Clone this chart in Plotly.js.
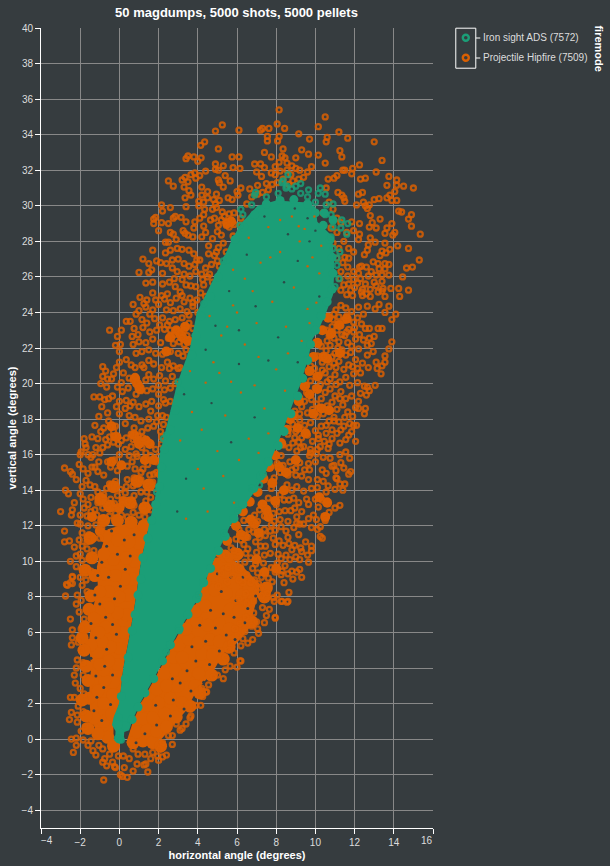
<!DOCTYPE html>
<html><head><meta charset="utf-8">
<script src="https://cdn.plot.ly/plotly-3.0.1.min.js"></script>
<style>html,body{margin:0;padding:0;background:#363c3f}</style></head>
<body><div id="chart" style="width:610px;height:866px"></div>
<script>
var hipTop=[[8.15,35.4],[8.05,34.6],[8.43,34.35],[7.63,34.35],[7.3,34.35],[7.2,34.25],[7.55,33.9],[8.15,33.9],[7.55,33.65],[8.07,33.65],[6.1,34.25],[5.25,34.55],[4.9,34.2],[4.35,33.6],[4.15,33.4],[5.05,33.2],[8.35,33.2],[7.4,33],[9.3,33.15],[9.15,34.05],[7.75,32.75],[8.3,32.8],[8.45,32.7],[9,32.7],[5.75,32.75],[6.1,32.75],[4.17,32.7],[3.8,32.75],[3.5,32.8],[3.4,32.65],[4,32.5],[4.9,32.35],[5.3,32.25],[5.8,32.15],[6.15,32.1],[4.9,32.05],[5.05,32],[4.4,31.95],[6.9,32.35],[7.2,32.35],[7.4,32.15],[7,31.9],[7.25,31.65],[7.75,31.85],[7.95,31.75],[8.55,32.4],[8.55,32],[9,32.1],[9.2,32],[2.5,31.4],[2.75,31.1],[3.2,31.45],[3.35,31.6],[3.65,31.75],[3.85,31.85],[4.1,31.7],[3.9,31.55],[3.5,31.35],[3.3,31.05],[4.2,31.05],[5.05,31.45],[5.1,31.3],[5.4,31.7],[5.65,31.4],[5.3,31.05],[6.2,31],[6,30.8],[6.05,30.6],[5.55,30.45],[5.75,30.35],[4.95,30.65],[4.2,30.6],[3.55,30.85],[3.65,30.6],[3.35,30.45],[4.5,30.8],[4.5,30.45],[4.05,30.25],[4.3,30.2],[4.8,30.35],[5.1,30.3],[4.9,30.1],[4.95,29.9],[3.4,29.95],[4.05,30],[4.35,29.8],[4.75,29.8],[2.15,30.05],[2.6,29.9],[2.2,29.7],[1.85,29.35],[1.75,29.25],[1.75,29],[2.15,29.05],[2.5,29],[2.75,29.3],[2.85,29.4],[3.15,29.35],[3.4,29.1],[2,28.6],[2.6,28.5],[2.75,28.4],[3.25,28.6],[3.35,28.45],[3.5,28.35],[3.75,28.25],[2.9,28.1],[2.5,27.95],[2.35,27.95],[3.85,29.1],[4.1,29.3],[4.3,29.5],[5,28.55],[4.3,28.85],[4.4,28.5],[5.2,29.2],[5.35,29.4],[5.5,29.1],[5.7,29.2],[5.45,28.9],[5.6,28.8],[5.85,28.95],[6.2,29.3],[6.5,30.1],[6.75,30.5],[7.05,30.65],[7.3,30.75],[7.6,30.9],[7.8,31.2],[8.05,31.3],[8.35,31.5],[8.65,31.2],[8.85,31.4],[9.15,31.5],[9.4,31.6],[9.6,31.9],[9.8,32.2],[9.65,32.9],[9.7,33.75],[7.5,31.25],[7.05,31.15],[6.65,30.95],[8.2,31.95],[8.75,31.75],[7.95,32.2],[8.15,32.45],[8.8,32.25],[5.6,29.55],[5.25,29.65],[5.85,29.6],[5.05,28.9],[5.2,28.35],[4.75,28.15],[4.55,27.75],[5.05,27.65],[5.3,27.9]];
var hipRightTop=[[10.5,35],[10.15,34.45],[11.2,34.15],[11.65,33.8],[10.6,33.85],[10.55,33.6],[13,33.6],[11.25,33.1],[11.35,32.75],[10.15,32.85],[10.5,32.4],[13.4,32.55],[12.25,32.3],[11.9,32.1],[11.5,32],[11.4,32],[11.85,31.8],[13.1,31.9],[11.1,31.7],[10.95,31.55],[10.65,31.5],[12.3,31.5],[12.55,31.55],[13.75,31.65],[14.15,31.45],[13.65,31.15],[14.15,31.15],[14.5,31.1],[15,31],[14.05,30.8],[10.55,31],[11.15,30.75],[12.2,30.65],[12.4,30.75],[11.35,30.6],[11.45,30.45],[11.5,30.25],[13,30.35],[13.25,30.4],[13.65,30.45],[13.8,30.6],[13.9,30.3],[14.15,30.3],[12.1,30.05],[12.45,30.2],[12.55,30],[12.75,30.05],[12.65,29.85],[14.25,29.7],[14.4,29.65],[14.9,29.5],[14.75,29.25],[14.9,28.85],[15.35,28.4],[13.3,29.25],[12.8,29.45],[12.25,29],[12.9,29.05],[13.9,29],[11.85,29.1],[12.75,28.8],[13.1,28.75],[13.65,28.75],[14.05,28.5],[11.95,28.6],[12.25,28.4],[12.2,28.1],[12.8,28.2],[13.55,28.45],[13.95,28.35],[13.05,27.95],[11.45,28],[12.7,27.8],[13.55,27.9],[14.2,27.75],[14.75,27.6],[12.65,27.5],[12.5,27.25],[13.8,27.55],[13.4,27.45],[13.6,27.35],[13.3,27.2],[15.3,26.95],[11.5,27.1],[11.7,27.05],[12.95,26.85],[13.55,26.75],[13.75,26.7],[12.35,26.6],[12.6,26.55],[13.25,26.45],[13.55,26.45],[14.65,26.5],[14.95,26.55],[14.45,26],[11.65,26.55],[11.95,26.3],[11.65,26.05],[12.15,25.65],[12.55,25.6],[13,25.7],[13.4,25.75],[13.85,25.35],[14.25,25.35],[14.75,25.25],[11.3,25.25],[11.6,25],[11.9,24.95],[12.4,24.95],[12.8,24.9],[13.4,25.2],[13.55,24.9],[14.3,24.9],[10.7,30.2],[10.9,29.8],[10.4,29.6],[11.1,29.3],[11.3,29.05],[10.8,28.75],[11.1,28.5],[11.6,28.5],[10.9,27.9],[11.2,27.6],[11.7,27.6],[11.95,27.4],[11.1,27.05],[11.4,26.8],[12.2,26.2],[12.3,25.9],[12.7,26.05],[13.1,26.1],[12,25.4],[12.4,25.3],[12.8,25.3],[13.1,25.5],[11.7,25.6],[11.25,25.9],[11.95,25.85],[12.35,25.15],[12.6,25.05],[11.45,25.55],[11.8,25.25],[12.25,26.55],[12.85,26.3],[13.4,26.1],[13.2,26.75],[13.45,25.35],[13.2,25.15],[13.75,26.1],[11.3,26.3]];
var hipRightMid=[[14.1,23.9],[13.9,23.6],[13.4,23.1],[13.2,23.1],[12.55,23.1],[12.75,23.1],[13,22.65],[12.75,22.55],[12.85,22.25],[13.9,22.35],[13.75,21.95],[12.65,22.15],[12.95,21.8],[12.65,21.6],[13.55,21.55],[13.1,21.2],[13.55,21.2],[13.4,21],[13.15,20.85],[13.35,20.55],[12.7,20.9],[12.3,20.6],[13.05,19.9],[12.15,20.05],[12.65,19.8],[12.75,19.6],[12.6,19.35],[12.5,19.85],[12.2,19],[12.55,18.6],[12.2,18.6],[12.5,18.3],[12.1,17.65],[11.95,17.65],[11.45,17.6],[11.7,17.1],[11.1,17.2],[12.05,16.75],[11.85,17.3],[11.05,24.15],[11.3,24.4],[11.55,24.25],[11.85,24.05],[12.2,24.3],[12.45,23.9],[12.65,24.35],[13.05,24.2],[13.25,24.45],[13.55,24],[13.75,24.35],[11.2,23.75],[11.45,23.55],[11.6,23.8],[11.95,23.45],[12.15,23.7],[12.35,23.35],[10.85,23.2],[11.1,23],[11.3,23.25],[11.7,23.05],[11.95,22.9],[10.7,22.7],[10.95,22.55],[11.2,22.35],[11.5,22.7],[11.65,22.3],[12.05,22.5],[12.2,21.95],[10.3,22.1],[10.55,21.85],[10.75,22.15],[11,21.7],[11.15,22],[11.35,21.9],[11.55,21.6],[11.8,21.75],[12.05,21.35],[10.1,21.55],[10.35,21.2],[10.45,21.5],[10.7,20.95],[10.95,21.15],[11.2,21.25],[11.45,20.8],[11.7,21.05],[11.95,20.55],[9.95,20.85],[10.2,20.45],[10.5,20.6],[10.75,20.25],[11,20.5],[11.25,20.1],[11.55,20.35],[11.75,19.9],[9.75,20.15],[10,19.75],[10.25,19.95],[10.5,19.5],[10.75,19.7],[11,19.3],[11.3,19.55],[11.55,19.15],[11.85,19.3],[9.55,19.5],[9.8,19.1],[10.05,18.85],[10.3,19.15],[10.6,18.75],[10.85,18.95],[11.1,18.55],[11.4,18.8],[11.65,18.4],[11.9,18.15],[9.3,18.7],[9.6,18.35],[9.85,18.55],[10.1,18.15],[10.4,18.3],[10.7,17.9],[10.95,18.1],[11.2,17.85],[9.2,17.95],[9.45,17.65],[9.75,17.8],[10,17.35],[10.3,17.6],[10.55,17.2],[10.85,17.4],[9,17.3],[9.3,16.95],[9.6,17.1],[9.85,16.75],[10.15,16.9],[10.45,16.75],[8.85,16.65],[9.05,16.2],[9.4,16.45],[9.7,15.95],[9.75,16.1],[9.55,19.9],[9.75,21],[10.15,22.2],[10.55,23],[10.9,23.6],[10.95,23.9],[10.15,17.1],[9.2,19.2],[8.95,18.45],[8.85,17.7],[8.6,17.15]];
var hipRightLow=[[10.25,16.45],[10.65,16.35],[11.25,16],[11.55,16.15],[11.75,15.8],[10.75,15.8],[11.45,15.25],[11.05,14.7],[11.1,14.65],[11.8,15.05],[11.7,14.9],[11.5,14.35],[11.4,14],[11,14.05],[10.55,13.9],[10.65,14.25],[10.4,14.5],[10.1,14.6],[9.65,15.5],[9.7,15.15],[10,15.6],[9.25,16.4],[9.75,16.3],[8.7,15.6],[9,15.25],[8.2,15],[8.6,14.85],[9,14.85],[9.3,14.8],[9.65,14.6],[8.55,14.3],[9.05,14.2],[8.2,13.75],[8.65,13.45],[8.9,13.55],[9.15,13.3],[9.55,13.5],[10,13.5],[10.35,13.45],[10.6,13.4],[11.25,13.15],[11,13],[10.7,12.75],[10.5,12.45],[10.5,12.3],[9.65,13.2],[9.3,12.8],[8.75,12.85],[9.05,12.5],[9.65,12.4],[9.05,12.15],[9.2,12.1],[9.8,11.9],[10.25,11.95],[10.1,11.8],[10.25,11.4],[10.35,11.3],[8.6,12.25],[8.2,12.35],[8.5,11.7],[7.4,11.8],[7.45,11.45],[7.85,11.3],[8.6,11.35],[9.15,11.5],[8.65,11],[9.5,11.1],[9.8,10.85],[9.8,10.6],[9.25,10.75],[9.3,10.55],[9.6,10.35],[9,10.25],[8.8,10.65],[8.5,10.35],[8.7,10.1],[9.65,9.95],[7.7,10.45],[7.45,10.85],[7.2,10.85],[7,10.5],[6.55,10.7],[6.7,10.2],[6.2,11.2],[6.45,10.45],[8.45,9.75],[8.3,9.45],[8.8,9.45],[9.2,9.55],[9.05,9.4],[9.3,9.1],[8.25,9.25],[8.4,8.8],[8.65,8.25],[8.25,7.75],[8.55,7.7],[6.3,8.8],[6.8,9.6],[7.35,9.9],[7.45,9.35],[7.05,9.35],[7.8,8.85],[6.7,8.8],[7.2,8.5],[8.05,8.1],[6.5,7.7],[8.35,15.4],[8.05,15.5],[7.9,14.7],[7.75,14.1],[8,13.2],[7.6,13.55],[7.35,13.25],[7.55,12.85],[7.85,12.7],[7.65,12.45],[7.4,12.55],[7.9,12.25],[7.75,12.05],[7.15,12.9],[6.9,12.6],[6.75,12.15],[7.05,12.25],[6.6,11.8],[6.35,12.3],[6.85,11.65],[6.55,11.35],[6.1,11.8],[5.95,11.25],[5.7,10.75],[6.05,10.55],[5.45,10.35],[7.95,10.95],[8.15,11.15],[8.1,10.4],[8.05,9.9],[7.75,9.65],[7.95,9.4],[7.6,9.05],[7.25,9.1],[6.9,8.95],[6.5,9.25],[6.2,9.6],[5.95,9.95],[5.55,9.65],[5.2,9.35],[5.8,9.2],[6.1,8.95],[5.5,8.85],[5.05,8.6],[8.85,9],[8.6,9.3],[7.55,8.2],[7.85,7.95],[7.25,8.05],[8.3,7.75],[8.6,7.75],[7.9,7.75],[7.95,6.8],[7.4,6.55],[7.3,7.4],[7.5,6.95],[6.8,5.6],[6.55,5.4],[6.2,5.25],[5.7,5.4],[5.7,5.15],[7.1,5.95],[7.05,6.2],[7,6.6],[6.5,7.65],[7.65,7.3],[7.95,6.85],[6.85,7.1],[6.45,6.85],[6.15,6.5],[6.75,6.35],[6.4,6.05],[6.05,5.85],[6.3,5.65],[5.9,6.2],[6.15,4.4],[6,4.05],[5.65,4.1],[5.4,4.6],[5.4,3.9],[5.3,3.4],[5,3.6],[4.8,3.5],[5.85,4.85],[5.55,5],[6.2,4.4],[4.55,3.05],[4.4,2.65],[4.2,2.85],[4.25,2.4],[4.15,1.9],[3.6,1.2],[3.4,0.85],[3.1,0.5],[2.7,0.2],[2.5,0.2],[2.7,-0.3],[2.4,-0.9],[2.2,-1],[2,-1.2],[1.35,-1.4],[3.65,1.3],[4.45,2.65],[3.9,1.9],[3.2,0.6],[2.9,0.85],[2.2,-0.2],[1.7,-0.75],[2.05,-0.55],[1.95,-0.95],[1.25,-1.45],[1.45,-1.85],[0.9,-1.4],[0.7,-1.8],[0.25,-1.6],[0.05,-2],[0.15,-2.1],[0.4,-2.15],[0.5,-1.1],[0.2,-0.95],[0.95,-0.85],[0.7,-0.55],[1.3,-0.85],[1.6,-1.1]];
var hipLeftUp=[[1.7,27.5],[1.2,27],[1.5,26.75],[1,26.25],[1.5,26.25],[1.65,26.4],[1.35,25.65],[1.7,25.7],[1.7,25.1],[1.9,26.9],[2.1,26.8],[2.35,27.35],[2.6,27.5],[2.95,27.6],[3.2,27.55],[3.55,27.5],[3.8,27.3],[3.95,26.95],[4.1,26.95],[3,27],[2.7,26.95],[2.4,26.75],[2.7,26.5],[2.95,26.3],[3.3,26.15],[3.6,26.05],[3.9,26.3],[4.2,26.15],[4.4,26.5],[4.55,27.3],[4.85,27.2],[5,26.9],[4.7,26.7],[2.2,26.2],[2.2,25.6],[2.45,25.05],[2.85,25.45],[3.1,25.15],[3.4,25.55],[3.65,25.5],[3.9,25.45],[4.15,25.1],[4.3,25.55],[1.05,24.85],[1.4,24.7],[1.85,24.7],[2.15,24.95],[2.6,24.55],[2.9,24.8],[3.3,24.6],[3.6,24.8],[3.95,24.7],[0.7,24.45],[1,24.1],[1.35,24.3],[1.7,24.15],[2,24.45],[2.4,24.15],[2.75,24.1],[3.1,24.2],[3.45,24.05],[3.75,24.35],[0.35,23.5],[0.55,23.5],[0.85,23.9],[0.75,23.1],[1.15,23.6],[1.4,23.4],[1.8,23.65],[2.2,23.7],[2.55,23.5],[2.85,23.6],[3.2,23.7],[3.55,23.4],[0.1,23],[-0.5,23],[0.65,22.65],[0.95,22.75],[1.2,23.15],[1.55,22.9],[1.9,23],[2.3,23.05],[2.6,23],[2.9,23],[3.3,23],[3.45,22.7],[3.1,22.85],[3.2,22.6],[2.8,22.75],[0.05,22.2],[-0.1,22.65],[-0.2,22.15],[0.7,22.2],[1,22.35],[1.35,22.3],[1.7,22.5],[2.1,22.3],[2.5,22.55],[2.75,22.25],[3.05,22.35],[3.3,22.2],[0,21.8],[0.85,21.7],[1.15,21.8],[1.5,21.9],[1.85,21.7],[2.2,21.65],[2.6,21.8],[3,21.7],[3.25,21.55],[0,21.2],[0.35,21.35],[0.6,21.05],[0.8,20.9],[1.15,21.05],[1.5,21.3],[1.75,21.1],[2.15,20.9],[2.45,21.2],[2.75,21],[3,20.85],[-0.85,20.95],[-0.7,20.7],[-0.85,20.4],[-0.6,20.25],[-0.4,20.25],[0.5,20.3],[0.7,20.2],[0.9,20.05],[1.05,19.9],[1.1,19.6],[0.95,19.75],[0.8,20.4],[1.5,20.5],[1.75,20.25],[2.05,20.45],[2.35,20.15],[2.7,20.4],[-0.95,20],[-0.65,19.8],[-0.1,19.8],[0.15,19.55],[0.45,19.75],[0.85,19.4],[1.4,19.6],[1.7,19.7],[2,19.4],[2.3,19.65],[2.6,19.75],[-1.3,19.25],[-1,19.25],[-0.75,19.1],[-0.9,18.7],[-0.55,19.15],[-0.35,19.3],[0,19],[0.35,19.05],[0.7,18.95],[1,18.7],[1.35,18.85],[1.65,19],[2,18.75],[2.35,18.9],[-1.05,18.15],[-0.55,17.9],[-0.6,18.35],[0,18.3],[0.3,18.6],[0.5,18.2],[0.8,18.1],[1.1,17.9],[1.5,18],[1.95,18.2],[2.2,18.2],[-0.2,17.6],[-0.3,17.3],[-0.5,17],[-0.45,17.55],[-0.3,17.05],[0.3,17.75],[0.75,17.5],[1.15,17.3],[1.45,17.5],[1.75,17.6],[2.1,17.3],[2.25,17.7],[0.6,17.15],[0.7,16.85],[0.95,17.05],[1.2,16.95]];
var hipLeftMid=[[-1.8,16.9],[-1.4,17],[-1.75,16.6],[-1.7,16.4],[-1.95,16.15],[-2,16],[-2.05,15.45],[-2.8,15.25],[-2.5,15.05],[-2.4,14.9],[-2.2,14.6],[-1.7,14.55],[-2.75,14],[-2.6,13.8],[-2,13.8],[-2.3,13.3],[-1.85,13.5],[-1.8,13],[-2.4,12.9],[-3,12.8],[-2.45,12.6],[-2.15,12.15],[-2,12.1],[-2.8,11.7],[-2.8,11.1],[-2.55,11.15],[-1.9,11.6],[-1.65,12.55],[-1.1,16.9],[-1.2,16.4],[-1.6,16],[-1.35,16],[-1,16.1],[-0.6,16.55],[-0.3,16.7],[-0.05,16.6],[0,16],[-0.25,15.7],[-0.6,15.6],[-1.4,15.3],[-1.25,15.3],[-1.1,15.05],[-0.8,14.85],[-0.45,15.3],[-0.1,15.1],[0.3,16.3],[0.6,16.45],[0.85,16.05],[1.15,16.4],[1.55,16.65],[1.85,16.3],[0.5,15.95],[0.9,15.9],[1.25,15.7],[1.6,15.95],[1.9,15.6],[0.4,15.35],[0.8,15.2],[1.2,15.2],[1.45,15.45],[1.75,14.9],[-1.5,14.3],[-1.25,14.2],[-0.5,14.35],[-0.2,14.5],[0.05,14.05],[0.4,14.6],[0.75,14.7],[1.1,14.6],[1.45,14.25],[1.7,14.45],[-1.1,13.9],[-0.8,13.75],[-0.45,13.5],[-0.1,13.7],[0.3,13.85],[0.75,13.7],[1.1,13.9],[1.4,13.9],[-1.1,13.3],[-0.85,13],[-0.55,13.15],[-0.25,13.25],[0.15,13.2],[0.45,13.35],[0.75,13.15],[1.2,13.1],[1.35,13.4],[1.6,13.6],[-1.45,12.8],[-1.15,12.6],[-0.85,12.45],[-0.5,12.55],[-0.2,12.7],[0.1,12.6],[0.4,12.5],[0.7,12.75],[1,12.6],[1.3,12.5],[-1.6,12],[-1.2,12.05],[-0.9,11.85],[-1.55,11.5],[-1.3,11.3],[-1,11.3],[-1.9,10.85],[-1.65,10.7],[-1.3,10.6],[-2.5,10],[-2.2,10.3],[-2,10.4],[-2.2,9.7],[-2.4,9.1],[-2.5,8.8],[-2.7,8.7],[-1.9,8.65],[-2.75,8.05],[-2.15,8.1],[-2.65,8.65],[-2.4,8.75],[-2.4,9.15],[-1.9,10.05],[-1.55,10.15],[-1.75,9.5],[-1.45,9.45],[-2,9.1],[-1.7,8.95],[-1.65,8.3],[-1.95,7.8]];
var hipLeftLow=[[-2.5,6.75],[-2.4,6.15],[-1.95,6.2],[-2.4,5.7],[-2.45,5.3],[-2.15,4.45],[-1.85,4.3],[-2.2,4],[-2.3,3.6],[-2.25,3.15],[-2.5,2.35],[-2.3,2.35],[-2.1,1.85],[-2.45,1.5],[-2.15,1.35],[-2.55,1.1],[-2.15,0.95],[-2.45,0],[-2.2,0.05],[-2.2,-0.35],[-2.35,-0.75],[-1.85,-0.05],[-1.6,-0.35],[-1.35,-0.65],[-1.2,-0.9],[-0.85,-0.55],[-0.75,-1.1],[-0.35,-1.3],[-0.2,-1.6],[-0.8,-2.3],[-0.65,-1.5],[-0.25,-1.55],[-0.85,-1.3],[-2.2,7.6],[-2.05,7.15],[-1.8,6.75],[-2.1,5.45],[-1.95,5],[-1.85,3.6],[-2,2.85],[-1.8,2.55],[-1.85,1.55],[-1.75,0.7],[-1.95,0.45],[-1.45,-0.1],[-1.05,-0.35],[-0.5,-0.85],[-0.05,-0.95]];
var hipExtra=[[-0.15,20.9],[0.2,20.6],[-0.3,20.55],[0.1,20.05],[1.25,20.9],[1.35,20.2],[2,19.9],[2.55,20.85],[2.25,19.1],[1.6,18.45],[1.9,17.85],[0.55,18.75],[-0.15,18.7],[-0.8,17.5],[-1.25,17.65],[-0.95,17.3],[-0.7,16.85],[-0.85,16.4],[-1.45,15.85],[-1.85,15.2],[-1.6,14.95],[-1.9,14.2],[-1.45,13.6],[-1.6,13.2],[-1.25,12.9],[-2,12.6],[-1.65,11.1],[-2.05,11.2],[-2.3,10.8],[-1.05,15.6],[-0.65,14.1],[0.35,14.2],[0.7,14.25],[1.55,14.85],[1.85,14.1],[1.1,15],[0.1,16.8],[0.35,16.95],[2.45,16.85],[2.15,16.6],[1.35,16.1],[0.65,15.6],[3.2,24.95],[3.75,24.55],[3.55,23.85],[2.45,23.3],[2.05,23.3],[1.55,23.9],[1.25,24.5],[2.3,24.75],[2.8,25.9],[3.2,25.85],[2.55,25.7],[3.55,26.6],[3.85,26.7],[3.3,26.75],[4.25,25.85],[4.5,26],[4.6,26.15],[3.8,28.75],[4.65,29.2],[4.85,29.3],[4.2,28.25],[4.95,27.4],[9.2,18.3],[9.45,19],[9.15,16.7],[8.95,16.95],[8.65,16.4],[8.35,16.55],[8.25,15.95],[8.8,15.15],[9.45,15.15],[9.2,15.55],[10.35,15.15],[10.55,14.95],[10.1,14.15],[9.8,14.1],[9.4,13.95],[8.8,14],[8.4,13.45],[8.45,12.85],[8.15,12.8],[8.95,13],[9.4,12.1],[9.9,12.6],[10.15,13.05],[10.05,12.35],[8.9,11.9],[8.25,11.95],[7.15,11.35],[7.7,11.7],[7.95,11.75],[8.35,10.9],[8.95,10.9],[8.25,10.15],[9.2,10.1],[7.4,10.35],[6.95,11.1],[6.35,10.95],[5.85,10.6],[10.95,17.9],[11.5,18.1],[10.55,17.65],[10.2,18.65],[11.25,19.15],[11.05,19.95],[10.35,20.75],[10.6,20.1],[11.05,20.9],[10.85,21.5],[10.6,22.4],[11.35,22.75],[11.6,22.9],[11.85,22.1],[12,23.15],[12.25,22.75],[12.45,22.45],[12.4,21.15],[12.15,20.85],[11.9,20.95],[12.3,19.45],[12.05,18.65],[11.75,17.75],[11.3,17.4],[11.55,16.85],[11.25,16.65],[10.85,16.9],[10.7,16.6],[10.1,16.3],[10.05,16.05],[10.4,15.85],[10.95,15.4],[11.3,15.55],[11.05,15.1],[10.85,15.35],[11.25,14.35],[6.1,7.9],[6.45,8.2],[6.85,7.75],[7.1,8.75],[6.4,9.95],[6.95,9.85],[1.6,12.9],[1.9,15],[2,15.9],[2.15,17],[2.4,18.1],[2.6,19],[2.85,20],[3.1,20.9],[3.4,21.9],[3.75,23.1],[4,24],[4.4,24.9],[4.75,25.7],[5.1,26.6],[5.45,27.4],[5.8,28.3],[6.2,28.9]];
var hipEdgeRight=[[5.1,10.5],[5.5,11.15],[5.95,12],[6.3,12.8],[6.65,13.35],[7.05,13.9],[7.35,14.65],[7.65,15.3],[7.95,15.95],[8.25,16.65],[8.55,17.4],[8.85,18.2],[9.15,19],[9.45,19.85],[9.7,20.7],[9.9,21.5],[10.1,22.3],[10.35,23],[10.65,23.7],[5.6,10.2],[6.2,11.5],[6.7,12.35],[7.3,13.2],[7.8,14.4],[8.15,15.3]];
var hipCoreLeft=[[-0.3,-0.2],[-1,0.2],[-1.45,1],[-1.55,2.5],[-1.45,4],[-1.55,5.5],[-1.35,7.3],[-1.1,8.6],[-1.15,9.7],[-0.9,10.8],[-0.6,11.8],[0.3,12.1],[1.5,12],[1.1,10],[0.85,8],[0.55,6],[0.2,4],[0,2],[-0.3,1]];
var hipCoreRight=[[0.35,-0.2],[1.4,-0.3],[2.15,0],[2.8,0.85],[3.4,1.6],[3.95,2.75],[4.75,3.75],[5.3,4.8],[5.95,5.35],[6.6,6.2],[6.9,7.4],[7.2,8.7],[6.3,9.7],[5.5,10.3],[4.85,10.2],[4.1,8],[3.05,6],[2.1,4],[1.1,2],[0.7,1]];
var hipGaps=[[-1.45,6.5],[-1.45,4.55],[-1.2,3.55],[-0.45,1.95],[-1,7.6],[-0.7,6.85],[-0.25,7.9],[-1.25,8.1],[-0.55,9.1],[-0.9,9.95],[-0.1,10.4],[0.3,9.55],[-0.65,10.85],[0.25,11.2],[-0.4,11.7],[0.75,11.5],[-1.2,5.7],[-0.65,5.05],[-0.15,5.9],[-0.8,2.9],[-0.35,3.6],[-1.3,1.6],[-0.9,1.05],[-0.75,4.1],[0.05,8.6],[-0.35,6.45],[-1.15,2.35],[0.55,10.3],[-1.1,9.2],[1.3,0.3],[1.9,0.8],[2.6,1.3],[1.85,1.9],[2.75,2.2],[3.3,1.7],[3.1,3.15],[3.65,2.7],[2.7,3.4],[3.45,3.85],[4.3,3.2],[3.9,4.4],[4.6,4.2],[3.7,5.2],[4.4,5.5],[5.1,4.95],[4.9,6.25],[5.45,5.85],[5.9,5.6],[4.65,7.25],[5.3,7.05],[5.85,6.85],[6.4,6.55],[5.2,8.3],[5.95,7.8],[6.55,7.35],[6.95,8.05],[5.7,9.1],[6.3,9.1],[6.75,9.7],[4.1,6.4],[5,9.3],[0.85,-0.2]];
var hipDenseLeft=[[-0.6,0.1],[-1.1,0.3],[-0.3,-0.4],[-1.6,0.6],[-0.8,1],[-1.3,1.2],[-0.4,1.4],[-1.7,1.3],[-0.35,2.5],[-0.8,2],[-1.55,2.3],[-1.1,2.7],[-1.9,2.2],[-0.3,3.2],[-0.75,3.3],[-1.6,3.3],[-0.8,3.9],[-0.1,4.2],[-0.55,4.4],[-1,4.2],[-1.7,4.1],[-1.1,4.9],[0,5.1],[-0.45,5.2],[-0.9,5.5],[-1.45,5.3],[-1.8,5],[-1.9,5.7],[0.2,6],[-0.25,6.2],[-0.7,6.3],[-1.05,6],[-1.75,6.3],[0.35,7],[-0.1,7.1],[-0.55,7.4],[-1,7.1],[-1.55,7.3],[-1.3,6.8],[0.45,8.1],[0,8],[-0.55,8.3],[-1,8.3],[-1.45,8.05],[0.7,9],[0.25,9],[-0.2,9.2],[-0.75,9.3],[-1.25,9.2],[-1.75,9.5],[0.8,10],[0.35,10.2],[-0.3,10.1],[-0.8,10.4],[-1.4,10.2],[1,11],[0.5,11.1],[-0.1,11.2],[-0.7,11.4],[-1.5,11.3],[1.25,12],[0.6,12.2],[-0.1,12.3],[-0.8,12.3],[1.3,13],[0.55,13.3],[-0.5,13.1],[-0.95,13.5],[1.5,14.3],[0.9,14.5],[-0.3,14.2]];
var hipDenseRight=[[0.7,-0.2],[1.2,-0.1],[1.7,-0.2],[2.1,-0.4],[0.9,0.4],[1.4,0.5],[1.9,0.45],[2.4,0.7],[1.2,1.15],[1.7,1.2],[2.3,1.45],[2.9,1.25],[1.4,1.9],[2,2.05],[2.6,2.3],[3.2,2.05],[3.6,1.85],[1.9,2.8],[2.4,3],[3,3],[3.85,3],[4.1,2.6],[2.3,3.7],[2.85,3.9],[3.35,3.6],[4.05,3.7],[4.7,3.6],[2.75,4.6],[3.2,4.6],[4.2,4.8],[4.75,4.75],[5.3,4.5],[3.05,5.3],[3.55,5.6],[4,5.4],[4.6,5.6],[5.1,5.5],[5.6,5.2],[3.4,6.2],[3.95,6.6],[4.5,6.4],[5.1,6.5],[5.6,6.2],[3.9,7.2],[4.4,7.5],[5.65,7.3],[6.1,7.2],[6.75,6.6],[4.3,8.2],[4.85,8.4],[5.45,8.2],[6.25,8.1],[6.8,8.2],[7.4,8],[4.8,9.2],[5.4,9.4],[6.6,8.6],[7.5,8.5],[5.4,10.3],[6,10.4]];
var hipClumps=[[6.4,11.4],[6.9,12.1],[7.6,12.5],[7.5,12.9],[7.1,11.6],[7.95,13.4],[8.4,14],[8.5,15],[9,15.7],[10.6,13.3],[10.5,12.5],[8.7,18],[9.1,17.5],[9.5,17.2],[9.9,18.3],[9.7,19.4],[10.1,20.4],[10.6,21.4],[10.8,22.8],[11.2,23.3],[11.6,23.65],[11.25,21.7],[10.4,21.5],[0.75,17.1],[0.95,16.8],[1.55,16.6],[-0.15,17],[0.9,20],[1.05,19.7],[0.8,20.3],[2.4,21.8],[3.1,22.8],[3.2,22.6],[3.35,23.2],[2.9,23],[5.5,29],[5.7,29.1],[-1.4,12.5],[-1,11.7],[-0.4,15.6],[0.1,15.4],[1.3,15.7],[1.75,15.7],[2.1,14.9],[7.4,9.4],[8,9.6],[7,10.1],[6.1,9.6],[-0.4,17.6],[1,16.6],[1.35,16.8],[0,13],[0.2,13.4],[2.6,22.6],[3.5,22.4],[10.3,18.6],[10.7,18.5],[10.1,19.7],[10.2,13.6]];
var hipSpecks=[[4.6,23.8],[5.2,22.7],[6.4,22.2],[7.1,21.5],[8,20.8],[8.6,21.7],[5.1,20.6],[6.2,19.5],[7.4,18.6],[5.4,18.2],[4.2,17.4],[6.6,16.9],[7.6,17.2],[4,15.2],[5.3,14.8],[3.4,12.4],[4.5,12.8],[5.8,24.4],[6.8,25.2],[7.8,24.6],[8.9,25.4],[9.6,24.2],[7.2,26.8],[8.2,27.4],[9.2,28],[6.6,28.2],[7.6,28.8],[8.8,29.4],[9.6,26.6],[5.8,26.4],[8.5,23.2],[9.3,22.4],[4.8,21.2],[6,24],[7,23.4],[9.45,28.7],[9.15,28.85],[9.85,27.1],[10.2,26.2],[10.05,24.55],[9.7,23.4],[8.2,29.2],[7.7,27.1],[6.4,25.9],[5.5,23.2],[4.4,20.05],[5.7,20.1],[6.9,19.9],[8.45,19.6],[3.7,18.4],[5,16.2],[6.1,15.7],[7.1,16.1],[4.3,14.1],[5.85,13.3],[3.1,16.8],[3.6,20.7],[9.95,29.4],[10.3,27.75]];
var adsGaps=[[4.4,21.9],[4.9,23.25],[6.1,21.1],[7.6,21.3],[8.1,22.6],[9.1,21.2],[6.95,24.35],[8.4,25.7],[9.1,26.9],[8.6,28.4],[9.7,28],[7.4,29.4],[6.5,27.25],[5.6,25.2],[4.7,18.9],[6.9,18.1],[2.95,12.8],[3.4,14.65],[5.7,16.7],[8.95,29.85],[9.6,29.3],[10,28.6],[10.2,24.9],[6.1,23],[3.3,19.4]];
var adsHull=[[0,-0.25],[-0.22,-0.05],[-0.2,0.45],[-0.38,0.8],[-0.3,1.2],[-0.02,2],[0.2,4],[0.55,6],[0.85,8],[1.1,10],[1.5,12],[1.9,14],[2.05,16],[2.5,18],[2.95,20],[3.6,22],[3.95,24],[4.85,26],[5.3,27],[5.7,28],[6.2,29],[7.05,30],[8,30.3],[9.4,30.2],[10,29.95],[10.1,29.1],[10.85,28.3],[10.95,27],[10.95,26],[10.9,25],[10.55,24],[10.15,23],[9.85,22.5],[9.65,21.5],[9.25,20],[8.65,18.3],[8.15,16.8],[7.45,15],[6.95,14],[5.65,12],[4.8,10],[4.05,8],[3,6],[2.05,4],[1.05,2],[0.65,1],[0.5,0.5],[0.25,0.4],[0.22,-0.05]];
var adsBump=[[-0.05,1.2],[0.1,2.4],[0.3,3.4],[0.45,4.6],[0.65,6.1],[0.8,7],[0.95,8.1],[1.1,9],[1.2,10.2],[1.45,11.3],[1.65,12.3],[1.85,13.2],[2.05,14.2],[2.15,15.3],[2.3,16.3],[2.6,17.4],[2.85,18.5],[3.1,19.6],[3.4,20.7],[3.7,21.6],[3.9,22.7],[4.15,23.8],[4.65,24.9],[5.05,26],[5.5,27],[5.9,28.1],[6.35,28.8],[6.9,29.5],[7.5,30.1],[8.2,30.3],[8.9,30.35],[9.6,30.1],[10,29.6],[10.4,28.9],[10.75,28.1],[10.85,27.1],[10.9,26.2],[10.85,25.3],[10.6,24.6],[10.3,23.8],[10,23],[9.75,22.2],[9.6,21.3],[9.35,20.3],[9.1,19.3],[8.75,18.3],[8.4,17.3],[8.1,16.5],[7.6,15.6],[7.2,14.8],[6.85,14.1],[6.3,13.2],[5.85,12.4],[5.4,11.4],[5.05,10.6],[4.65,9.6],[4.3,8.8],[3.95,7.9],[3.5,7],[3.05,6.2],[2.6,5.3],[2.2,4.4],[1.75,3.4],[1.3,2.6],[0.95,1.8],[0.65,1.1],[0.3,0.75],[-0.05,0.8],[0,0],[10.45,29.6],[10.9,29.2]];
var adsEdge=[[0,0],[-0.1,0.05],[0.1,-0.05],[1.9,13.9],[2.25,16.9],[2.4,17.1],[3,20.1],[4.3,24.5],[5.3,26.9],[6.15,28.9],[6.3,29.5],[6.2,29.8],[6.75,30.05],[6.9,30.6],[6.95,30.75],[7.5,30.5],[8.1,30.7],[8.6,31.75],[9.25,31.25],[9.65,30.9],[9.25,30.7],[10.25,31],[10.5,30.65],[10.15,30.7],[10.55,30.05],[10.9,30.1],[11.35,29.2],[11.65,29],[11.6,28.4],[11.3,28.75],[10.9,28.8],[10.8,28.25],[10.9,27.6],[11.25,27.4],[11.1,27.05],[11.1,26.65],[11.2,25.9],[11,25.45],[8.3,31.3],[8.5,31],[8.8,30.95],[8.35,31.4],[8.55,31.1],[9,31.1],[9.6,30.5],[10,30.2],[10.5,29.5],[10.8,29.5],[7.35,14.9],[7.15,14.3],[6.75,14.1],[6.05,12.85],[5.35,11.6],[4.05,8.1],[3.05,6.1],[2.4,4.9]];
var legendLabels=['Iron sight ADS (7572)','Projectile Hipfire (7509)'];
var tickValsX=[-4,-2,0,2,4,6,8,10,12,14,16];
var tickValsY=[-4,-2,0,2,4,6,8,10,12,14,16,18,20,22,24,26,28,30,32,34,36,38,40];

var ORANGE='#d95f02',GREEN='#1b9e77',BG='#363c3f',FONT='"Liberation Sans",Arimo,Helvetica,Arial,sans-serif';
var hip=[].concat(hipTop,hipRightTop,hipRightMid,hipRightLow,hipLeftUp,hipLeftMid,hipLeftLow,hipExtra);
function xs(a){return a.map(function(p){return p[0]})}
function ys(a){return a.map(function(p){return p[1]})}
function ring(a,c,o){return {type:'scatter',mode:'markers',x:xs(a),y:ys(a),showlegend:false,hoverinfo:'skip',
  marker:{symbol:'circle-open',size:5,opacity:o,line:{width:2.3,color:c},color:c}}}
function blob(a,c){return {type:'scatter',mode:'none',x:xs(a),y:ys(a),fill:'toself',fillcolor:c,showlegend:false,hoverinfo:'skip'}}
function dots(a,c,s){return {type:'scatter',mode:'markers',x:xs(a),y:ys(a),showlegend:false,hoverinfo:'skip',marker:{size:s,color:c,line:{width:0}}}}
var traces=[
  blob(hipCoreLeft,ORANGE),blob(hipCoreRight,ORANGE),
  dots(hipDenseLeft,ORANGE,13),dots(hipDenseRight,ORANGE,13),dots(hipClumps,ORANGE,10),dots(hipEdgeRight,ORANGE,10),
  dots(hipGaps,BG,3),
  ring(hip,ORANGE,0.85),
  blob(adsHull,GREEN),dots(adsBump,GREEN,9),
  ring(adsEdge,GREEN,0.85),
  dots(hipSpecks,'#c9620a',2.4),dots(adsGaps,'#2a4a48',2.4)
];
var L=40.6,R=432.7,T=28.3,B=828,W=R-L,H=B-T;
function px(x){return (x-L)/W}
function py(y){return (B-y)/H}
var anns=[
 {xref:'paper',yref:'paper',x:px(41),y:py(840),text:'\u22124',showarrow:false,xanchor:'left',yanchor:'middle',xshift:-2,font:{family:FONT,size:10,color:'#dddddd'}},
 {xref:'paper',yref:'paper',x:px(433),y:py(840),text:'16',showarrow:false,xanchor:'right',yanchor:'middle',xshift:2,font:{family:FONT,size:10,color:'#dddddd'}},
 {xref:'paper',yref:'paper',x:px(482.5),y:py(38),text:legendLabels[0],showarrow:false,xanchor:'left',yanchor:'middle',xshift:-2,font:{family:FONT,size:10,color:'#dddddd'}},
 {xref:'paper',yref:'paper',x:px(482.5),y:py(58),text:legendLabels[1],showarrow:false,xanchor:'left',yanchor:'middle',xshift:-2,font:{family:FONT,size:10,color:'#dddddd'}},
 {xref:'paper',yref:'paper',x:px(599),y:py(49),text:'<b>firemode</b>',textangle:90,showarrow:false,xanchor:'center',yanchor:'middle',font:{family:FONT,size:11,color:'#ffffff'}}
];
function pshape(t,x0,y0,x1,y1,line,fill){return {type:t,xref:'paper',yref:'paper',x0:px(x0),x1:px(x1),y0:py(y0),y1:py(y1),line:line,fillcolor:fill||'rgba(0,0,0,0)',layer:'above'}}
var shapes=[
 pshape('rect',455.5,28.5,475.5,68.5,{color:'#ffffff',width:1}),
 pshape('line',475.5,38.3,480,38.3,{color:'#ffffff',width:1}),
 pshape('line',475.5,58.3,480,58.3,{color:'#ffffff',width:1}),
 pshape('circle',462.5,35,468.5,41,{color:GREEN,width:2.4}),
 pshape('circle',462.5,55,468.5,61,{color:ORANGE,width:2.4})
];
var layout={width:610,height:866,paper_bgcolor:BG,plot_bgcolor:BG,margin:{l:L,r:610-R,t:T,b:866-B,pad:0},showlegend:false,
 font:{family:FONT,color:'#dddddd'},
 title:{text:'<b>50 magdumps, 5000 shots, 5000 pellets</b>',x:(115+358)/2/610,xanchor:'center',y:1-12/866,yanchor:'middle',font:{family:FONT,size:13,color:'#ffffff'}},
 xaxis:{range:[-4,16],tickmode:'array',tickvals:tickValsX,ticktext:tickValsX.map(function(v){return (v===-4||v===16)?'':String(v).replace('-','\u2212')}),
  showgrid:true,gridcolor:'#888888',gridwidth:1,zeroline:false,showline:true,linecolor:'#ffffff',linewidth:1,ticks:'outside',ticklen:5,tickcolor:'#ffffff',tickwidth:1,
  tickfont:{family:FONT,size:10,color:'#dddddd'},title:{text:'<b>horizontal angle (degrees)</b>',standoff:4,font:{family:FONT,size:11,color:'#ffffff'}}},
 yaxis:{range:[-5,40],tickmode:'array',tickvals:tickValsY,ticktext:tickValsY.map(function(v){return String(v).replace('-','\u2212')}),
  showgrid:true,gridcolor:'#888888',gridwidth:1,zeroline:false,showline:true,linecolor:'#ffffff',linewidth:1,ticks:'outside',ticklen:5,tickcolor:'#ffffff',tickwidth:1,
  tickfont:{family:FONT,size:10,color:'#dddddd'},title:{text:'<b>vertical angle (degrees)</b>',standoff:2,font:{family:FONT,size:11,color:'#ffffff'}}},
 annotations:anns,shapes:shapes};
Plotly.newPlot('chart',traces,layout,{displayModeBar:false,responsive:false});
</script></body></html>
